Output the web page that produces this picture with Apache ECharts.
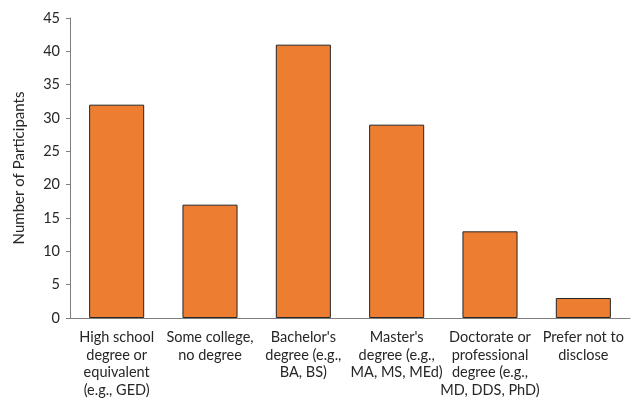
<!DOCTYPE html>
<html><head><meta charset="utf-8">
<script src="https://cdn.jsdelivr.net/npm/echarts@6/dist/echarts.min.js"></script>
<style>html,body{margin:0;padding:0;background:#fff}#c{width:632px;height:399px}</style>
</head><body><div id="c"></div>
<script>
const categories = [
  "High school\ndegree or\nequivalent\n(e.g., GED)",
  "Some college,\nno degree",
  "Bachelor's\ndegree (e.g.,\nBA, BS)",
  "Master's\ndegree (e.g.,\nMA, MS, MEd)",
  "Doctorate or\nprofessional\ndegree (e.g.,\nMD, DDS, PhD)",
  "Prefer not to\ndisclose"
];
const participants = [32, 17, 41, 29, 13, 3];
const yTicks = {min: 0, max: 45, interval: 5};
const font = "Lato, 'Open Sans', sans-serif";
const chart = echarts.init(document.getElementById('c'));
chart.setOption({
  animation: false,
  grid: {left: 70, right: 2, top: 18, bottom: 80, containLabel: false},
  xAxis: {
    type: 'category', data: categories,
    axisLine: {lineStyle: {color: '#7f7f7f', width: 1}},
    axisTick: {show: false},
    axisLabel: {color: '#262626', fontFamily: font, fontSize: 14.5, lineHeight: 17.5, margin: 11, interval: 0}
  },
  yAxis: {
    type: 'value', min: yTicks.min, max: yTicks.max, interval: yTicks.interval,
    name: 'Number of Participants', nameLocation: 'middle', nameGap: 43,
    nameTextStyle: {color: '#262626', fontFamily: font, fontSize: 15},
    axisLine: {show: true, lineStyle: {color: '#7f7f7f', width: 1}},
    axisTick: {show: true, length: 4, lineStyle: {color: '#7f7f7f'}},
    splitLine: {show: false},
    axisLabel: {color: '#262626', fontFamily: font, fontSize: 14.5, margin: 10}
  },
  series: [{
    type: 'bar', data: participants, barWidth: '59%',
    itemStyle: {color: '#ED7D31', borderColor: '#262626', borderWidth: 1}
  }]
});
</script></body></html>
